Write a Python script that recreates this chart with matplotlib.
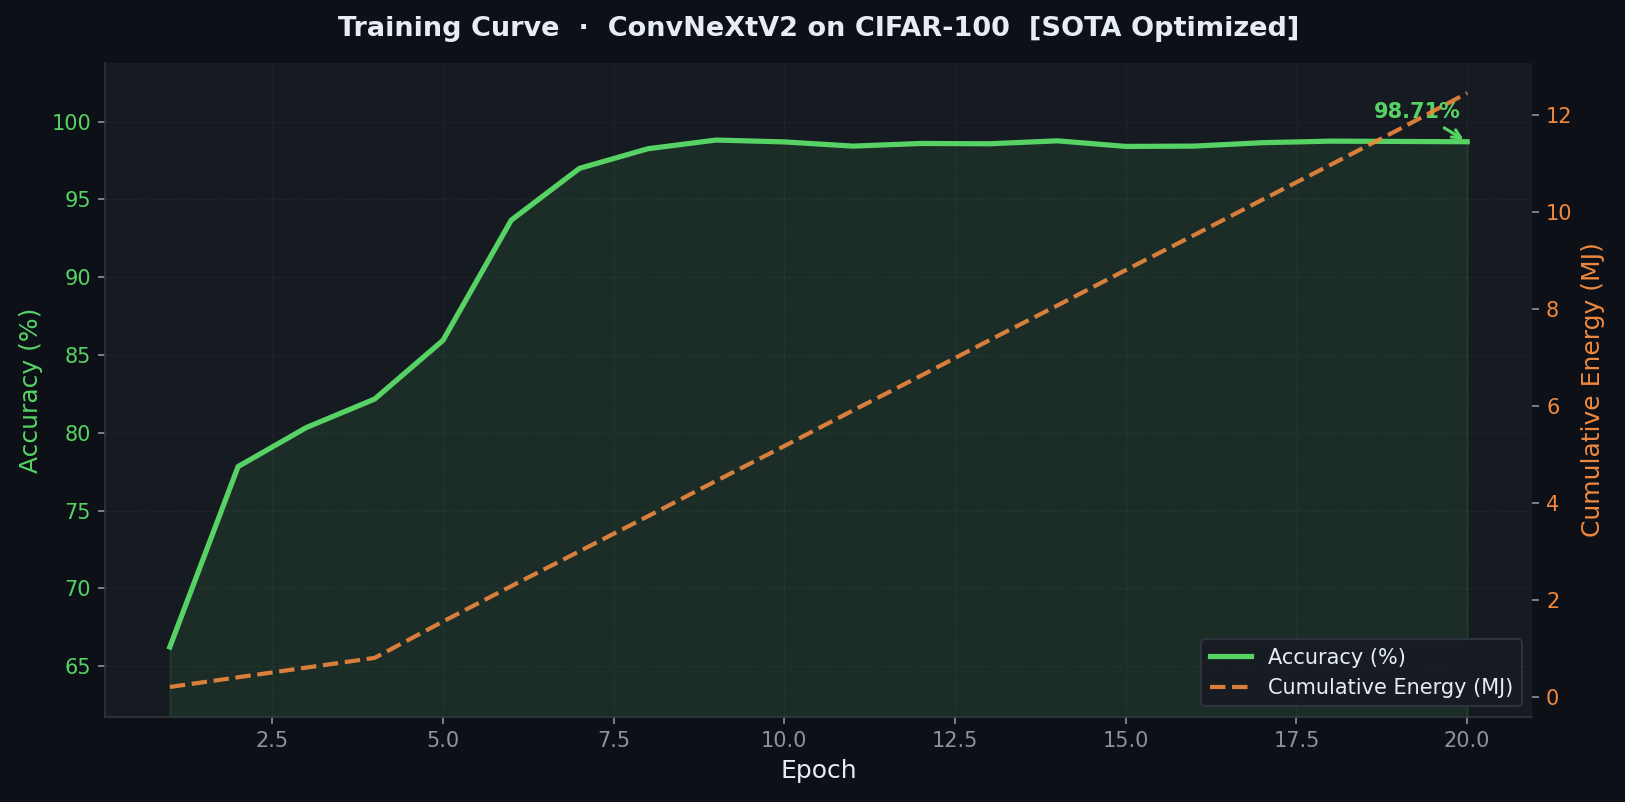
import matplotlib
matplotlib.use("Agg")
import matplotlib.pyplot as plt
from matplotlib.ticker import MultipleLocator

epochs = list(range(1, 21))
accuracy = [66.23, 77.83, 80.34, 82.17, 85.94, 93.67, 97.00, 98.26, 98.82, 98.70,
            98.43, 98.60, 98.58, 98.77, 98.41, 98.43, 98.65, 98.75, 98.73, 98.71]
energy_mj = [0.20, 0.40, 0.60, 0.80, 1.55, 2.28, 3.00, 3.72, 4.45, 5.17,
             5.90, 6.62, 7.35, 8.07, 8.80, 9.52, 10.25, 10.97, 11.70, 12.45]

title = "Training Curve  \u00b7  ConvNeXtV2 on CIFAR-100  [SOTA Optimized]"

FIG_BG = "#0d1117"
AX_BG = "#161b22"
GREEN = "#56d364"
ORANGE = "#f0883e"
GRID = "#30363d"
TXT = "#e6edf3"
MUTED = "#8b949e"

plt.rcParams["font.family"] = ["DejaVu Sans"]

fig = plt.figure(figsize=(1625 / 150, 802 / 150), dpi=150, facecolor=FIG_BG)
ax = fig.add_subplot(111)
fig.subplots_adjust(left=0.0646, right=0.9428, top=0.921, bottom=0.1064)
ax.set_facecolor(AX_BG)

ylo, yhi = 61.75, 103.75
l1, = ax.plot(epochs, accuracy, color=GREEN, lw=2.5, label="Accuracy (%)", zorder=3)
ax.fill_between(epochs, accuracy, ylo, color=GREEN, alpha=0.10, zorder=2)
ax.set_ylim(ylo, yhi)
ax.yaxis.set_major_locator(MultipleLocator(5))

ax.annotate(f"{accuracy[-1]:.2f}%", xy=(epochs[-1], accuracy[-1]),
            xytext=(-24, 14.5), textcoords="offset points", ha="center", va="center",
            fontsize=10, fontweight="bold", color=GREEN,
            arrowprops=dict(arrowstyle="->", color=GREEN, lw=1.5))

ax2 = ax.twinx()
l2, = ax2.plot(epochs, energy_mj, color=ORANGE, lw=2, ls="--", alpha=0.9,
               label="Cumulative Energy (MJ)")

ax.grid(True, color=GRID, ls="--", lw=0.6, alpha=0.35)
ax.set_axisbelow(True)

for a in (ax, ax2):
    for s in ("top", "right"):
        a.spines[s].set_visible(False)
    a.spines["left"].set_color(GRID)
    a.spines["bottom"].set_color(GRID)
ax2.spines["left"].set_visible(False)
ax2.spines["bottom"].set_visible(False)

ax.tick_params(axis="x", colors=MUTED, labelsize=10, length=3.2)
ax.tick_params(axis="y", colors=MUTED, labelcolor=GREEN, labelsize=10, length=3.2)
ax2.tick_params(axis="y", colors=MUTED, labelcolor=ORANGE, labelsize=10, length=3.2)

ax.set_xlabel("Epoch", color=TXT, fontsize=12)
ax.set_ylabel("Accuracy (%)", color=GREEN, fontsize=12)
ax2.set_ylabel("Cumulative Energy (MJ)", color=ORANGE, fontsize=12)

ax.set_title(title, color=TXT, fontsize=13, fontweight="bold", pad=13)

leg = ax2.legend(handles=[l1, l2], loc="lower right", fontsize=10,
                 facecolor=AX_BG, edgecolor=GRID, framealpha=0.9)
for t in leg.get_texts():
    t.set_color(TXT)

fig.savefig("out.png", dpi=150, facecolor=FIG_BG)
